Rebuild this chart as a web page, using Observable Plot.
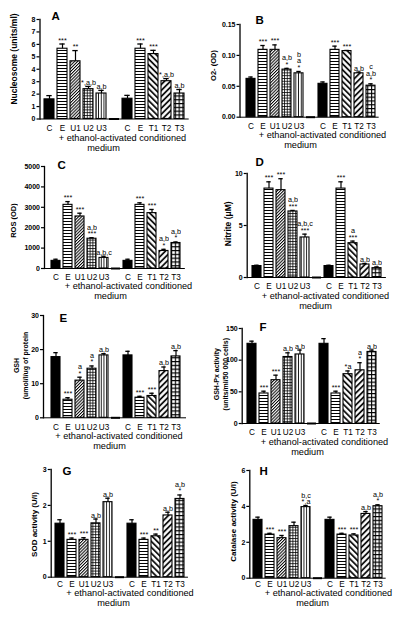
<!DOCTYPE html>
<html><head><meta charset="utf-8">
<script src="https://cdn.jsdelivr.net/npm/d3@7"></script>
<script src="https://cdn.jsdelivr.net/npm/@observablehq/plot@0.6"></script>
<style>
html,body{margin:0;padding:0;background:#fff;}
#fig{position:relative;width:400px;height:617px;overflow:hidden;background:#fff;}
#fig svg text{opacity:0.999;}
</style></head><body>
<svg width="0" height="0" style="position:absolute">
<defs>
<pattern id="pH" width="4" height="3" patternUnits="userSpaceOnUse"><rect width="4" height="3" fill="white"/><line x1="0" y1="1.5" x2="4" y2="1.5" stroke="black" stroke-width="1"/></pattern>
<pattern id="pV" width="2.7" height="4" patternUnits="userSpaceOnUse"><rect width="2.7" height="4" fill="white"/><line x1="1.35" y1="0" x2="1.35" y2="4" stroke="black" stroke-width="0.9"/></pattern>
<pattern id="pU1" width="2.2" height="2.2" patternUnits="userSpaceOnUse" patternTransform="rotate(45)"><rect width="2.2" height="2.2" fill="white"/><line x1="0.5" y1="0" x2="0.5" y2="2.2" stroke="black" stroke-width="1"/></pattern>
<pattern id="pU2" width="2.8" height="2.8" patternUnits="userSpaceOnUse"><rect width="2.8" height="2.8" fill="white"/><path d="M0 0.5H2.8M0.5 0V2.8" stroke="black" stroke-width="0.8"/></pattern>
<pattern id="pT1" width="4.2" height="4.2" patternUnits="userSpaceOnUse" patternTransform="rotate(-45)"><rect width="4.2" height="4.2" fill="white"/><line x1="1" y1="0" x2="1" y2="4.2" stroke="black" stroke-width="1.7"/></pattern>
<pattern id="pT2" width="4.2" height="4.2" patternUnits="userSpaceOnUse" patternTransform="rotate(45)"><rect width="4.2" height="4.2" fill="white"/><line x1="1" y1="0" x2="1" y2="4.2" stroke="black" stroke-width="1.7"/></pattern>
<pattern id="pT3" width="3.8" height="3.8" patternUnits="userSpaceOnUse"><rect width="3.8" height="3.8" fill="white"/><path d="M0 0.6H3.8M0.6 0V3.8" stroke="black" stroke-width="1.1"/></pattern>
</defs></svg>
<div id="fig"></div>
<script>
// ---- data ----
const categories = ["C","E","U1","U2","U3","","C","E","T1","T2","T3"];
const fills = ["black","url(#pH)","url(#pU1)","url(#pU2)","url(#pV)",null,"black","url(#pH)","url(#pT1)","url(#pT2)","url(#pT3)"];

const nucleosome    = [1.58,5.65,4.64,2.4,2.05,0,1.63,5.65,5.22,3.04,2.05];
const nucleosomeErr = [0.3,0.38,0.86,0.22,0.25,0,0.27,0.38,0.3,0.21,0.32];
const nucleosomeSig = ["","***","**","*,a,b","a,b","","","***","***","*,a,b","a,b"];

const o2    = [0.062,0.109,0.109,0.077,0.071,0,0.054,0.109,0.107,0.071,0.051];
const o2Err = [0.003,0.007,0.008,0.002,0.003,0,0.003,0.006,0.001,0.002,0.003];
const o2Sig = ["","***","***","a,b\n*","b\na\n*","","","***","***","a,b","c\na,b\n*"];

const ros    = [374,3120,2550,1460,520,0,374,3120,2715,860,1250];
const rosErr = [80,160,160,50,80,0,80,100,180,80,50];
const rosSig = ["","***","***","a,b\n***","a,b,c","","","***","***","a,b\n*","a,b\n*"];

const nitrite    = [1.1,8.55,8.4,6.35,3.85,0,1.1,8.55,3.3,1.25,0.9];
const nitriteErr = [0.08,0.65,1.1,0.1,0.32,0,0.08,0.65,0.2,0.1,0.12];
const nitriteSig = ["","***","***","a,b\n***","a,b,c\n***","","","***","a\n***","a,b","a,b"];

const gsh    = [17.8,5.3,10.9,14.4,18.3,0,18.3,5.9,6.4,13.7,18.0];
const gshErr = [1.3,0.6,1.0,0.8,0.5,0,1.2,0.4,0.8,1.2,1.7];
const gshSig = ["","***","a\n*","a\n*","a,b","","","***","***","a,b","a,b"];

const gshpx    = [125.8,47.4,68.4,105,109,0,125.8,47.4,77.9,84,113];
const gshpxErr = [4.2,3.6,7.9,6.6,7,0,8.2,3.6,5.1,12,3];
const gshpxSig = ["","***","***","a,b","a,b","","","***","*a","a\n*","a,b"];

const sod    = [1.49,1.04,1.04,1.5,2.09,0,1.49,1.04,1.14,1.72,2.18];
const sodErr = [0.11,0.05,0.06,0.12,0.11,0,0.11,0.05,0.06,0.09,0.11];
const sodSig = ["","***","***","a,b","a,b","","","***","**","a,b","a,b\n*"];

const catalase    = [3.25,2.43,2.23,2.9,3.96,0,3.25,2.43,2.38,3.58,4.01];
const catalaseErr = [0.15,0.07,0.15,0.22,0.09,0,0.15,0.07,0.09,0.13,0.08];
const catalaseSig = ["","***","***","","b,c\n*,a","","","***","***","a,b","a,b\n*"];

const panelLetters = ["A","B","C","D","E","F","G","H"];
const yLabels = ["Nucleosome (units/ml)","O2- (OD)","ROS (OD)","Nitrite (\u03bcM)",
  "GSH\n(umol/l/ug of protein","GSH-Px activity\n(units/ml/50 000 cells)","SOD activity (U/l)","Catalase activity (U/l)"];
const yMax = [8,0.15,5000,10,30,150,3,6];
const yTicks = [[0,1,2,3,4,5,6,7,8],[0,0.05,0.10,0.15],[0,1000,2000,3000,4000,5000],[0,5,10],[0,10,20,30],[0,50,100,150],[0,1,2,3],[0,2,4,6]];
const xLabelLines = ["+ ethanol-activated conditioned","medium"];

const values = [nucleosome,o2,ros,nitrite,gsh,gshpx,sod,catalase];
const errors = [nucleosomeErr,o2Err,rosErr,nitriteErr,gshErr,gshpxErr,sodErr,catalaseErr];
const sigs   = [nucleosomeSig,o2Sig,rosSig,nitriteSig,gshSig,gshpxSig,sodSig,catalaseSig];

// ---- layout (absolute page px) ----
const layouts = [
 {col:0, x0:39.5, bar0:41,   bar10:177, yt:18.5, yb:118,   tk:9.5, letter:[51,15],  yl:[13.5,58,8.5], xl:[122,140,103,150]},
 {col:1, x0:239.5,bar0:244,  bar10:368, yt:24,   yb:116.7, tk:9.5, letter:[255,20], yl:[212,65,7.5],  xl:[322,138,300,148]},
 {col:0, x0:44,   bar0:48,   bar10:174, yt:166,  yb:268,   tk:8.5, letter:[57,165], yl:[12.5,220,7.5],xl:[128,288,110,298]},
 {col:1, x0:246.7,bar0:248.3,bar10:375, yt:172.7,yb:276.7, tk:8.8, letter:[255,162],yl:[227,223,8.5], xl:[325,298,315,308]},
 {col:0, x0:43,   bar0:47,   bar10:175, yt:315,  yb:417.3, tk:9.2, letter:[59,318], yl:[20,365,7],    xl:[118.5,438.5,109,448.5]},
 {col:1, x0:241.7,bar0:244,  bar10:369, yt:328.3,yb:423.3, tk:9.2, letter:[259,327],yl:[220,374,7],   xl:[324,444.5,307,454.5]},
 {col:0, x0:50.7, bar0:53.3, bar10:177.3,yt:469, yb:576.7, tk:7.5, letter:[62,471], yl:[33,524,8],    xl:[129.5,596,113,606]},
 {col:1, x0:249.3,bar0:250.7,bar10:375, yt:470,  yb:577.7, tk:6.3, letter:[259,471],yl:[232,521,8],   xl:[328,596,312,606]}
];

const fig = document.getElementById("fig");
const W = 200, MT = 30, MB = 42;
const FONT = "'Liberation Sans', Arial, Helvetica, sans-serif";

layouts.forEach((L, p) => {
  const step = (L.bar10 - L.bar0) / 10;
  const r0 = L.bar0 - 0.1 * step;
  const r1 = r0 + 10.96 * step;
  const left = L.col * W;
  const top = L.yt - MT;
  const height = (L.yb - L.yt) + MT + MB;
  const frameMid = (L.yt + L.yb) / 2;
  const rows = categories.map((c, i) => ({key: String(i), label: c, v: values[p][i], e: errors[p][i], s: sigs[p][i], f: fills[i]}));
  const bars = rows.filter(d => d.label !== "");
  const gap = rows.filter(d => d.label === "");
  const fmt = yMax[p] < 1 ? d3.format(".2f") : d3.format("d");
  const svg = Plot.plot({
    width: W, height,
    marginLeft: L.x0 - left, marginRight: left + W - r1, marginTop: MT, marginBottom: MB,
    style: {background: "transparent", overflow: "visible", fontFamily: FONT},
    color: {type: "identity"},
    x: {domain: rows.map(d => d.key), paddingInner: 0.24, paddingOuter: 0.1, insetLeft: r0 - L.x0},
    y: {domain: [0, yMax[p]]},
    marks: [
      Plot.barY(bars, {x: "key", y: "v", fill: "f", stroke: "black", strokeWidth: 1.1}),
      Plot.ruleX(bars, {x: "key", y1: "v", y2: d => d.v + d.e, strokeWidth: 1.2}),
      Plot.tickY(bars, {x: "key", y: d => d.v + d.e, insetLeft: 2.3, insetRight: 2.3, strokeWidth: 1.3}),
      Plot.tickY(gap, {x: "key", y: () => 0, strokeWidth: 2}),
      Plot.ruleY([0], {strokeWidth: 1}),
      Plot.frame({anchor: "left", strokeWidth: 1.3}),
      Plot.axisY({ticks: yTicks[p], tickFormat: fmt, tickSize: 3, tickPadding: 1.5, fontSize: 7, fontWeight: "bold", label: null, strokeWidth: 1.2}),
      Plot.axisX({tickSize: 0, tickPadding: L.tk - 3.1, fontSize: 8.2, tickFormat: k => categories[+k], label: null}),
      Plot.text(bars.filter(d => d.s), {x: "key", y: d => d.v + d.e, text: "s", lineAnchor: "bottom", dy: -1.5, fontSize: 7.2, lineHeight: 0.9, fill: "black"}),
      Plot.text([panelLetters[p]], {text: d => d, frameAnchor: "top-left", dx: L.letter[0] - L.x0, dy: L.letter[1] - L.yt, textAnchor: "start", lineAnchor: "middle", fontSize: 11.5, fontWeight: "bold"}),
      Plot.text([yLabels[p]], {text: d => d, frameAnchor: "left", rotate: -90, dx: L.yl[0] - L.x0, dy: L.yl[1] - frameMid, textAnchor: "middle", lineAnchor: "middle", fontSize: L.yl[2], fontWeight: "bold", lineHeight: 1.25}),
      Plot.text([xLabelLines[0]], {text: d => d, frameAnchor: "bottom-left", dx: L.xl[0] - L.x0, dy: L.xl[1] - L.yb, textAnchor: "middle", fontSize: 9.2}),
      Plot.text([xLabelLines[1]], {text: d => d, frameAnchor: "bottom-left", dx: L.xl[2] - L.x0, dy: L.xl[3] - L.yb, textAnchor: "middle", fontSize: 9.2})
    ]
  });
  svg.style.position = "absolute";
  svg.style.left = left + "px";
  svg.style.top = top + "px";
  svg.style.maxWidth = "none";
  fig.appendChild(svg);
});
</script>
</body></html>
